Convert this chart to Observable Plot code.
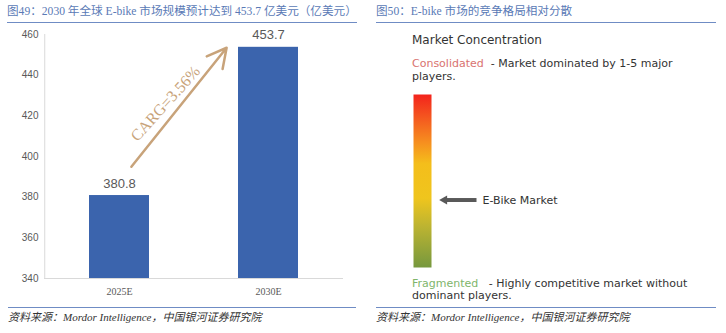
<!DOCTYPE html>
<html>
<head>
<meta charset="utf-8">
<script src="https://cdn.jsdelivr.net/npm/d3@7"></script>
<script src="https://cdn.jsdelivr.net/npm/@observablehq/plot@0.6"></script>
<style>
  html, body { margin: 0; padding: 0; background: #fff; }
  #wrap { position: relative; width: 726px; height: 333px; overflow: hidden; background: #fff; }
  .abs { position: absolute; white-space: nowrap; }
  .title { font-family: "Liberation Serif", "Noto Sans CJK SC", serif; color: #5a7ab6; line-height: 16px; }
  .rule { position: absolute; height: 0; border-top: 1.5px solid #6f8cc4; }
  .src { font-family: "Liberation Serif", "Noto Sans CJK SC", serif; font-style: italic; font-size: 11px; color: #333; line-height: 14px; }
  .mc { font-family: "DejaVu Sans", Verdana, sans-serif; color: #333; }
  svg { position: absolute; overflow: visible; }
</style>
</head>
<body>
<div id="wrap"></div>
<script>
// ---------- data ----------
const years = ["2025E", "2030E"];
const marketSize = [380.8, 453.7];          // 亿美元
const yTicks = [340, 360, 380, 400, 420, 440, 460];
const cagrLabel = "CARG=3.56%";
// annotation values (in chart units) for the growth arrow and label
const cagrArrow = [{x1: "2025E", y1: 387.7, x2: "2030E", y2: 479.2}];
const cagrText = [{x: "2025E", y: 426, label: cagrLabel}];

const concentrationLabel = "E-Bike Market";
const eBikeConcentration = [0.39];          // 0 = fragmented, 1 = consolidated

const titles = ["图49：2030 年全球 E-bike 市场规模预计达到 453.7 亿美元（亿美元）", "图50：E-bike 市场的竞争格局相对分散"];
const source = "资料来源：Mordor Intelligence，中国银河证券研究院";

const bars = years.map((year, i) => ({year, value: marketSize[i]}));

const wrap = document.getElementById("wrap");
function addDiv(cls, html, style) {
  const d = document.createElement("div");
  d.className = cls;
  d.innerHTML = html;
  Object.assign(d.style, style);
  wrap.appendChild(d);
  return d;
}

// titles and rules
addDiv("abs title", titles[0], {left: "7px", top: "4px", fontSize: "11.6px"});
addDiv("abs title", titles[1], {left: "376px", top: "4px", fontSize: "11.6px"});
addDiv("rule", "", {left: "7px", top: "22px", width: "350px"});
addDiv("rule", "", {left: "376px", top: "22px", width: "340px"});
addDiv("rule", "", {left: "8px", top: "307px", width: "348px"});
addDiv("rule", "", {left: "376px", top: "307px", width: "340px"});
addDiv("abs src", source, {left: "8px", top: "310px"});
addDiv("abs src", source, {left: "376px", top: "310px"});

// ---------- left chart ----------
const left = Plot.plot({
  width: 360,
  height: 280,
  marginTop: 10,
  marginBottom: 26,
  marginLeft: 44,
  marginRight: 17,
  style: {background: "transparent", overflow: "visible"},
  x: {domain: years, paddingInner: 0.6, paddingOuter: 0.3, label: null},
  y: {domain: [340, 460], label: null},
  marks: [
    Plot.barY(bars, {x: "year", y1: 340, y2: "value", fill: "#3b64ad"}),
    Plot.ruleY([340], {stroke: "#d9d9d9", strokeWidth: 1}),
    Plot.ruleX(["2025E"], {y1: 340, y2: 460, dx: -74.75, stroke: "#d9d9d9", strokeWidth: 1}),
    Plot.axisY({ticks: yTicks, tickSize: 0, tickPadding: 6, fontSize: 10, fontFamily: "Liberation Sans, Arial, sans-serif", fill: "#595959", label: null}),
    Plot.axisX({tickSize: 0, tickPadding: 9, fontSize: 10, fontFamily: "Liberation Serif, serif", fill: "#595959", label: null}),
    Plot.text(bars, {x: "year", y: "value", text: d => d.value.toFixed(1), dy: -12, fontSize: 13, fontFamily: "Liberation Sans, Arial, sans-serif", fill: "#595959"}),
    Plot.arrow(cagrArrow, {x1: "x1", y1: "y1", x2: "x2", y2: "y2", stroke: "#c8a37a", strokeWidth: 2.5, insetStart: 19, insetEnd: 67, headLength: 13, headAngle: 56}),
    Plot.text(cagrText, {x: "x", y: "y", text: "label", dx: 46, rotate: -48, fontSize: 16, fontFamily: "Liberation Serif, serif", fill: "#c8a37a"})
  ]
});
left.style.left = "0px";
left.style.top = "24px";
wrap.appendChild(left);

// ---------- right chart ----------
const gradientDefs = () => {
  const ns = "http://www.w3.org/2000/svg";
  const defs = document.createElementNS(ns, "defs");
  const lg = document.createElementNS(ns, "linearGradient");
  lg.setAttribute("id", "concGrad");
  lg.setAttribute("x1", "0"); lg.setAttribute("y1", "0");
  lg.setAttribute("x2", "0"); lg.setAttribute("y2", "1");
  [["0%", "#f3231c"], ["12%", "#f4521f"], ["28%", "#f6901f"], ["40%", "#f4be1b"], ["60%", "#efc51d"], ["76%", "#bdb431"], ["100%", "#76983e"]]
    .forEach(([o, c]) => {
      const s = document.createElementNS(ns, "stop");
      s.setAttribute("offset", o); s.setAttribute("stop-color", c);
      lg.appendChild(s);
    });
  defs.appendChild(lg);
  return defs;
};

const marker = eBikeConcentration.map(v => ({v, label: concentrationLabel}));
const right = Plot.plot({
  width: 363,
  height: 280,
  marginTop: 70,
  marginBottom: 37,
  marginLeft: 50,
  marginRight: 295,
  style: {background: "transparent", overflow: "visible"},
  x: {domain: [0, 1], axis: null},
  y: {domain: [0, 1], axis: null},
  marks: [
    gradientDefs,
    Plot.frame({fill: "url(#concGrad)", stroke: null}),
    Plot.link(marker, {x1: 3.5, x2: 1.85, y1: "v", y2: "v", stroke: "#595959", strokeWidth: 4}),
    Plot.dot(marker, {x: 1.72, y: "v", symbol: "triangle", r: 3.4, rotate: -90, fill: "#595959", stroke: null}),
    Plot.text(marker, {x: 3.83, y: "v", text: "label", textAnchor: "start", fontSize: 11, fontFamily: "DejaVu Sans, Verdana, sans-serif", fill: "#333"})
  ]
});
right.style.left = "363px";
right.style.top = "24px";
wrap.appendChild(right);

// right panel legend texts
addDiv("abs mc", "Market Concentration", {left: "412px", top: "32px", fontSize: "12px", lineHeight: "16px"});
addDiv("abs mc", '<span style="color:#d9736f">Consolidated</span>&nbsp; - Market dominated by 1-5 major<br>players.', {left: "412px", top: "58px", fontSize: "11px", lineHeight: "12.5px"});
addDiv("abs mc", '<span style="color:#80b56b">Fragmented</span>&nbsp;&nbsp; - Highly competitive market without<br>dominant players.', {left: "412px", top: "278px", fontSize: "11px", lineHeight: "11.5px"});
</script>
</body>
</html>
